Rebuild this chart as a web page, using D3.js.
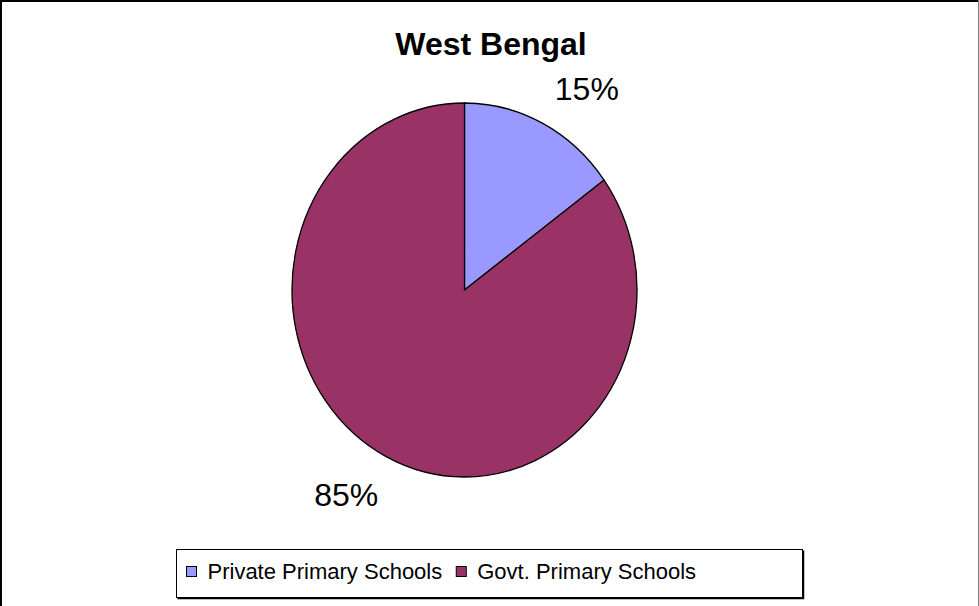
<!DOCTYPE html>
<html>
<head>
<meta charset="utf-8">
<script src="https://cdn.jsdelivr.net/npm/d3@7"></script>
<style>
  html, body { margin: 0; padding: 0; background: #fff; }
  svg { display: block; font-family: "Liberation Sans", Arial, sans-serif; }
</style>
</head>
<body>
<div id="chart"></div>
<script>
{
  const TITLE = "West Bengal";
  const categories = ["Private Primary Schools", "Govt. Primary Schools"];
  const values = [15, 85];
  const colors = ["#9999FF", "#993366"];

  const width = 979;
  const height = 606;

  const cx = 464.5, cy = 290;
  const rx = 172.5, ry = 187;

  const svg = d3.select("#chart")
    .append("svg")
    .attr("width", width)
    .attr("height", height);

  // outer frame
  svg.append("line").attr("x1", 1).attr("y1", 0).attr("x2", 1).attr("y2", height)
    .attr("stroke", "#000").attr("stroke-width", 2);
  svg.append("line").attr("x1", 0).attr("y1", 1).attr("x2", width).attr("y2", 1)
    .attr("stroke", "#000").attr("stroke-width", 2);
  svg.append("line").attr("x1", 978.5).attr("y1", 0).attr("x2", 978.5).attr("y2", height)
    .attr("stroke", "#808080").attr("stroke-width", 1);

  svg.append("text")
    .attr("x", 491)
    .attr("y", 55)
    .attr("text-anchor", "middle")
    .attr("font-size", 32)
    .attr("font-weight", "bold")
    .text(TITLE);

  const pie = d3.pie().sort(null).value(d => d);
  const arcs = pie(values);
  const arc = d3.arc().innerRadius(0).outerRadius(ry);

  const gPie = svg.append("g")
    .attr("transform", `translate(${cx},${cy}) scale(${rx / ry},1)`);

  gPie.selectAll("path.slice")
    .data(arcs)
    .enter()
    .append("path")
    .attr("class", "slice")
    .attr("d", arc)
    .attr("fill", (d, i) => colors[i])
    .attr("stroke", "#000")
    .attr("stroke-width", 1.3)
    .attr("vector-effect", "non-scaling-stroke");

  const total = d3.sum(values);
  svg.selectAll("text.label")
    .data(arcs)
    .enter()
    .append("text")
    .attr("class", "label")
    .attr("x", d => {
      const a = (d.startAngle + d.endAngle) / 2;
      return cx + rx * Math.sin(a) + Math.sign(Math.sin(a)) * 42 + 2;
    })
    .attr("y", d => {
      const a = (d.startAngle + d.endAngle) / 2;
      return cy - ry * Math.cos(a) - Math.sign(Math.cos(a)) * 36 + 13;
    })
    .attr("text-anchor", "middle")
    .attr("font-size", 32)
    .text(d => Math.round(d.value / total * 100) + "%");

  // legend
  const legX = 176.5, legY = 549.5, legW = 626, legH = 48;
  svg.append("rect")
    .attr("x", legX).attr("y", legY).attr("width", legW).attr("height", legH)
    .attr("fill", "#fff").attr("stroke", "#000").attr("stroke-width", 1);
  svg.append("path")
    .attr("d", `M${legX + legW + 1},${legY + 1} V${legY + legH + 1} H${legX + 1}`)
    .attr("fill", "none").attr("stroke", "#000").attr("stroke-width", 1.5);

  let x = 186.5;
  categories.forEach((c, i) => {
    svg.append("rect")
      .attr("x", x).attr("y", 566.5).attr("width", 10).attr("height", 10)
      .attr("fill", colors[i]).attr("stroke", "#000").attr("stroke-width", 1);
    const t = svg.append("text")
      .attr("x", x + 21)
      .attr("y", 579)
      .attr("font-size", 22)
      .text(c);
    x = x + 21 + t.node().getComputedTextLength() + 14;
  });
}
</script>
</body>
</html>
